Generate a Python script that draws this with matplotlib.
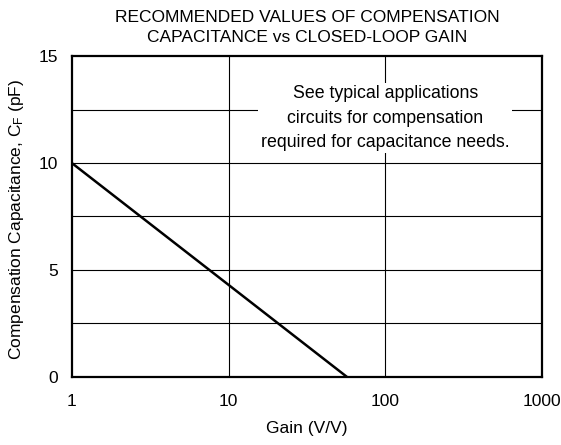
import matplotlib
matplotlib.use("Agg")
import matplotlib.pyplot as plt

plt.rcParams['font.family'] = ['Liberation Sans', 'DejaVu Sans']
plt.rcParams['mathtext.default'] = 'regular'

gain = [1, 57]
cap_pf = [10, 0]
x_ticks = [1, 10, 100, 1000]
x_tick_labels = ["1", "10", "100", "1000"]
y_ticks = [0, 5, 10, 15]
y_grid = [2.5, 5, 7.5, 10, 12.5]

FS = 12.5

fig = plt.figure(figsize=(5.61, 4.45), dpi=100)
ax = fig.add_axes([0.128, 0.153, 0.838, 0.721])

ax.set_xscale('log')
ax.set_xlim(1, 1000)
ax.set_ylim(0, 15)

for yv in y_grid:
    ax.axhline(yv, color='black', lw=0.8, zorder=1)
for xv in x_ticks[1:-1]:
    ax.axvline(xv, color='black', lw=0.8, zorder=1)

ax.plot(gain, cap_pf, color='black', lw=1.8, zorder=3, solid_capstyle='butt')

ax.set_xticks(x_ticks)
ax.set_xticklabels(x_tick_labels)
ax.set_xticks([], minor=True)
ax.set_yticks(y_ticks)
ax.tick_params(axis='both', length=0, labelsize=FS)
ax.tick_params(axis='x', pad=12)
ax.tick_params(axis='y', pad=10)

for s in ax.spines.values():
    s.set_linewidth(1.6)
    s.set_zorder(4)

ax.set_xlabel("Gain (V/V)", fontsize=FS, labelpad=9)
ax.set_ylabel("Compensation Capacitance, C$_F$ (pF)", fontsize=FS)
ax.yaxis.set_label_coords(-0.098, 0.49)
ax.set_title("RECOMMENDED VALUES OF COMPENSATION\nCAPACITANCE vs CLOSED-LOOP GAIN",
             fontsize=FS, pad=10, linespacing=1.45)

ax.text(100, 12.1, "See typical applications\ncircuits for compensation\nrequired for capacitance needs.",
        ha='center', va='center', multialignment='center', fontsize=12.8, linespacing=1.55,
        zorder=5, bbox=dict(boxstyle='square,pad=0.15', facecolor='white', edgecolor='none'))

fig.savefig("out.png", dpi=100)
